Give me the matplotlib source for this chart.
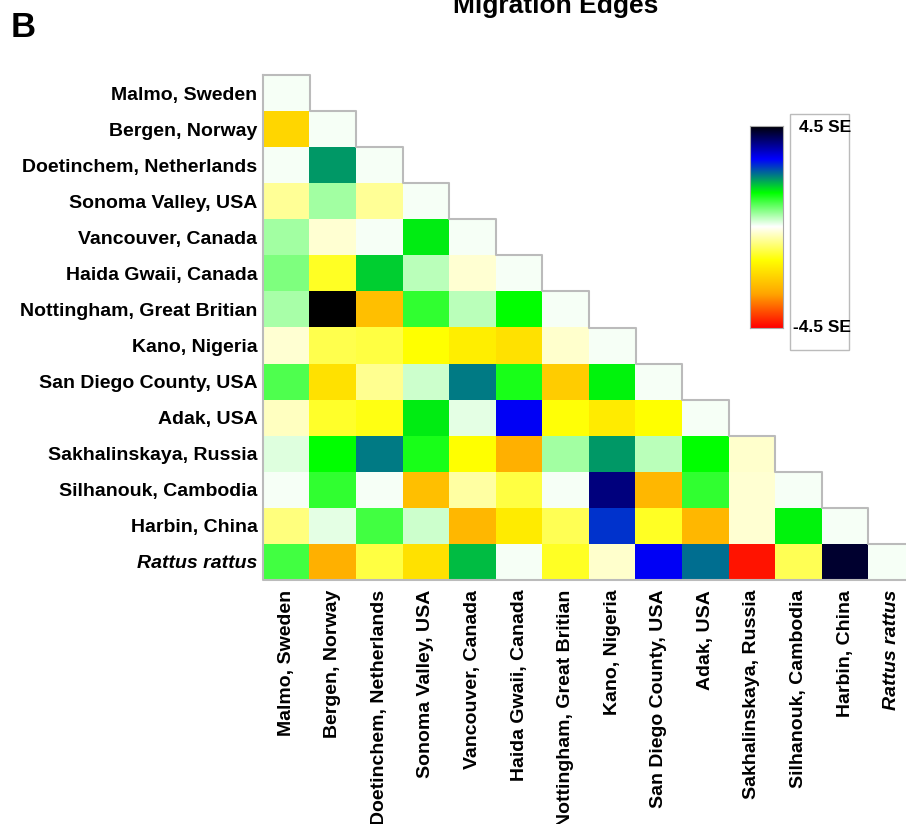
import matplotlib.pyplot as plt
import matplotlib.patches as mpatches
import numpy as np
from matplotlib.colors import LinearSegmentedColormap

plt.rcParams['font.family'] = ['Liberation Sans', 'DejaVu Sans']

sites = ["Malmo, Sweden", "Bergen, Norway", "Doetinchem, Netherlands",
         "Sonoma Valley, USA", "Vancouver, Canada", "Haida Gwaii, Canada",
         "Nottingham, Great Britian", "Kano, Nigeria", "San Diego County, USA",
         "Adak, USA", "Sakhalinskaya, Russia", "Silhanouk, Cambodia",
         "Harbin, China", "Rattus rattus"]

# migration edge weights (in SE units), lower triangle row by row
row_malmo = [0.06]
row_bergen = [-2.17, 0.06]
row_doetinchem = [0.05, 2.1, 0.06]
row_sonoma = [-0.6, 0.56, -0.6, 0.06]
row_vancouver = [0.55, -0.27, 0.05, 1.6, 0.06]
row_haida = [0.75, -1.3, 1.77, 0.4, -0.27, 0.06]
row_nottingham = [0.52, 4.5, -2.55, 1.2, 0.4, 1.5, 0.06]
row_kano = [-0.27, -1.03, -1.1, -1.5, -1.78, -2.0, -0.3, 0.06]
row_sandiego = [1.03, -2.0, -0.65, 0.3, 2.25, 1.37, -2.35, 1.55, 0.06]
row_adak = [-0.37, -1.25, -1.4, 1.6, 0.15, 3.05, -1.45, -1.8, -1.5, 0.06]
row_sakhalinskaya = [0.2, 1.5, 2.25, 1.37, -1.5, -2.8, 0.56, 2.1, 0.4, 1.5, -0.3]
row_silhanouk = [0.05, 1.2, 0.07, -2.55, -0.55, -1.1, 0.07, 3.75, -2.7, 1.2, -0.27, 0.06]
row_harbin = [-0.75, 0.15, 1.1, 0.3, -2.7, -1.8, -1.0, 2.7, -1.3, -2.7, -0.27, 1.55, 0.06]
row_rattus = [1.1, -2.8, -1.1, -2.0, 1.87, 0.05, -1.3, -0.3, 3.05, 2.34, -4.3, -1.0, 4.2, 0.06]

rows = [row_malmo, row_bergen, row_doetinchem, row_sonoma, row_vancouver,
        row_haida, row_nottingham, row_kano, row_sandiego, row_adak,
        row_sakhalinskaya, row_silhanouk, row_harbin, row_rattus]

n = len(sites)
M = np.full((n, n), np.nan)
for i, r in enumerate(rows):
    M[i, :len(r)] = r
M = np.ma.masked_invalid(M)

cmap = LinearSegmentedColormap.from_list(
    "se", ["#ff0000", "#ffa500", "#ffff00", "#ffffff",
           "#00ff00", "#0000ff", "#000000"])
cmap.set_bad("white", 0.0)

W, H = 906, 824
fig = plt.figure(figsize=(W / 100, H / 100), dpi=100)

def px_axes(x0, y0, x1, y1):
    return fig.add_axes([x0 / W, 1 - y1 / H, (x1 - x0) / W, (y1 - y0) / H])

ax = px_axes(263, 75, 915, 580)
ax.imshow(M, cmap=cmap, vmin=-4.5, vmax=4.5, aspect="auto",
          interpolation="nearest")
ax.set_xlim(-0.5, n - 0.5)
ax.set_ylim(n - 0.5, -0.5)

# staircase outline around the triangle
xs, ys = [-0.5], [-0.5]
for k in range(n):
    xs += [k + 0.5, k + 0.5]
    ys += [k - 0.5, k + 0.5]
xs += [-0.5, -0.5]
ys += [n - 0.5, -0.5]
ax.plot(xs, ys, color="#bbbbbb", lw=1.5, clip_on=False)

for s in ax.spines.values():
    s.set_visible(False)
ax.set_xticks(range(n))
ax.set_yticks(range(n))
ax.set_xticklabels(sites, rotation=90, fontsize=14, fontweight="bold",
                   va="top")
ax.set_yticklabels(sites, fontsize=14, fontweight="bold")
ax.tick_params(length=0)
ax.tick_params(axis="x", pad=7)
ax.tick_params(axis="y", pad=4)
ax.get_xticklabels()[-1].set_style("italic")
ax.get_yticklabels()[-1].set_style("italic")

# colour key
cax = px_axes(750, 126, 783, 328)
grad = np.linspace(4.5, -4.5, 256).reshape(-1, 1)
cax.imshow(grad, cmap=cmap, vmin=-4.5, vmax=4.5, aspect="auto")
cax.set_xticks([])
cax.set_yticks([])
for s in cax.spines.values():
    s.set_color("#aaaaaa")
    s.set_linewidth(0.8)

fig.patches.append(mpatches.Rectangle((790 / W, 1 - 350 / H), 59 / W, 236 / H,
                                      transform=fig.transFigure, fill=False,
                                      edgecolor="#bbbbbb", lw=1))
fig.text(799 / W, 1 - 128 / H, "4.5 SE", fontsize=12.5, fontweight="bold",
         va="center", ha="left")
fig.text(793 / W, 1 - 327 / H, "-4.5 SE", fontsize=12.5, fontweight="bold",
         va="center", ha="left")

fig.text(556 / W, 1 - 13 / H, "Migration Edges", fontsize=19,
         fontweight="bold", ha="center", va="baseline")
fig.text(11 / W, 1 - 37 / H, "B", fontsize=25, fontweight="bold",
         ha="left", va="baseline")

fig.savefig("out.png", dpi=100)
